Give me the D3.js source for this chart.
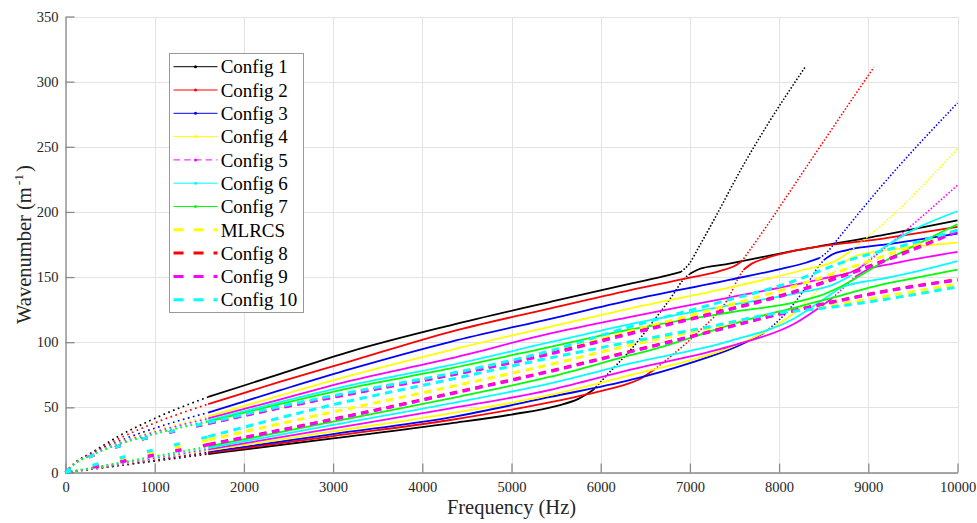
<!DOCTYPE html>
<html>
<head>
<meta charset="utf-8">
<script src="https://cdn.jsdelivr.net/npm/d3@7"></script>
<style>
  html, body { margin: 0; padding: 0; background: #ffffff; }
  svg text { font-family: "Liberation Serif", Tinos, "Times New Roman", Times, "DejaVu Serif", "Noto Serif", serif !important; }
</style>
</head>
<body>
<svg id="chart" width="977" height="523"></svg>
<script>
// ---- axis ticks ----
const freqTicks = [0, 1000, 2000, 3000, 4000, 5000, 6000, 7000, 8000, 9000, 10000];
const waveTicks = [0, 50, 100, 150, 200, 250, 300, 350];

// ---- configurations (legend order) ----
const configNames  = ["Config 1", "Config 2", "Config 3", "Config 4", "Config 5", "Config 6", "Config 7",
                      "MLRCS", "Config 8", "Config 9", "Config 10"];
const configColors = ["#000000", "#ff0000", "#0000ff", "#ffff00", "#ff00ff", "#00ffff", "#00ff00",
                      "#ffff00", "#ff0000", "#ff00ff", "#00ffff"];
const configDashed = [false, false, false, false, false, false, false, true, true, true, true];

// ---- dispersion branches: [frequency (Hz), wavenumber (1/m)] ----
// Config 1
const cfg1BranchA = [[0,0],[100,7],[300,15.5],[600,28],[1000,41.5],[1600,58],[2400,75.5],[3200,93],[4316,113],[5437,131],[6334,145],[6700,150.5],[6900,154],[6990,160],[7100,173],[7270,194],[7600,236],[7870,267],[8290,311]];
const cfg1BranchB = [[0,0],[400,3.5],[1000,8.8],[1600,14.2],[3000,26.2],[4316,37.7],[5000,44.5],[5500,51],[5750,56.5],[5919,63.5],[6100,77],[6334,94],[6600,117],[6816,137],[6920,147.5],[7000,152.5],[7100,156],[7400,159.8],[8203,170.6],[9249,183.4],[10000,193.6]];
// Config 2
const cfg2BranchA = [[0,0],[100,7],[300,15],[600,26],[1000,38],[1600,52.5],[2400,69.5],[3200,85.5],[4316,108],[5437,126],[6334,140],[7000,149.5],[7350,155],[7500,158.5],[7580,162],[7829,186],[8203,224],[8576,262],[9062,311]];
const cfg2BranchB = [[0,0],[400,3.7],[1000,9.4],[1600,15],[3000,28],[4316,40.3],[5437,54],[6000,62.5],[6300,68],[6446,72],[6600,79],[6800,90],[7081,107],[7455,137],[7540,149],[7600,155.5],[7700,160.5],[7829,164],[9249,180.4],[10000,188.5]];
// Config 3
const cfg3BranchA = [[0,0],[100,6.8],[300,14.5],[600,24],[1000,34],[1600,46],[2400,63],[3200,79.5],[4316,100.3],[5437,118],[6334,132.3],[7455,148],[8000,156],[8300,161],[8450,164.5],[8550,170],[8650,178.5],[9137,219],[10000,283.6]];
const cfg3BranchB = [[0,0],[400,3.9],[1000,9.9],[1600,15.8],[3000,29.5],[4316,42.3],[5437,58],[6334,71],[7000,84],[7500,96],[7825,107],[8000,117],[8277,140],[8420,156],[8500,163],[8600,167.5],[8750,170.5],[9286,175.8],[10000,183.4]];
// Config 4
const cfg4BranchA = [[0,0],[100,6.7],[300,14],[600,23],[1000,32],[1600,43],[2400,59],[3200,74.5],[4316,94],[5437,112],[6334,126],[7455,142],[8300,156],[8650,163],[8800,170],[9249,196],[10000,248.5]];
const cfg4BranchB = [[0,0],[400,4.1],[1000,10.5],[1600,16.8],[3000,31.5],[4316,45.4],[5437,59.5],[6334,74.8],[7455,96],[7900,110],[8203,124],[8500,145],[8700,160],[8850,166],[9249,171],[10000,176.5]];
// Config 5
const cfg5BranchA = [[0,0],[100,6.6],[300,13.8],[600,22.5],[1000,31],[1600,41.5],[2400,56],[3200,70.5],[4316,87.6],[5437,106.7],[6334,119.5],[7455,134.5],[8500,149],[8850,155],[9000,162],[9286,178],[10000,220.5]];
const cfg5BranchB = [[0,0],[400,4.4],[1000,11.1],[1600,17.8],[3000,33.8],[4316,49.2],[5437,63.5],[6334,79],[7455,97],[8165,114],[8600,134],[8850,150],[9000,156],[9286,160.5],[10000,169.3]];
// Config 6
const cfg6BranchA = [[0,0],[100,6.5],[300,13.6],[600,22],[1000,30],[1600,40],[2400,54],[3200,67],[4316,82.4],[5437,100],[6334,113.9],[7455,128.5],[8300,139],[8600,144],[8800,151],[9137,171],[9500,186],[10000,200.5]];
const cfg6BranchB = [[0,0],[400,4.7],[1000,11.8],[1600,18.8],[3000,36.5],[4316,53],[5437,68.5],[6334,83.7],[7455,101],[8165,118],[8500,133],[8700,142],[9000,147],[9137,148.5],[10000,162.2]];
// Config 7
const cfg7BranchA = [[0,0],[100,6.4],[300,13.4],[600,21.5],[1000,29.5],[1600,39],[2400,52.5],[3200,65],[4316,79.9],[5437,96.5],[6334,109.8],[7455,123],[8200,131],[8450,135.5],[8700,143],[9137,160.4],[10000,190.6]];
const cfg7BranchB = [[0,0],[400,5],[1000,12.5],[1600,20],[3000,39],[4316,56.9],[5437,73.5],[6334,90],[6558,94],[7679,118],[8200,127],[8450,131.5],[8700,136],[9137,144],[9500,149],[10000,155.8]];
// MLRCS
const mlrcsBranchA = [[0,0],[150,8],[400,15.5],[800,24.5],[1200,31.5],[1600,38],[2500,51.5],[3500,65],[4316,75.5],[5437,92],[6334,108.5],[7300,126],[8128,142],[9000,162],[10000,186]];
const mlrcsBranchB = [[0,0],[300,5],[600,9.5],[1000,15.5],[1600,25],[3000,46.5],[4316,65.8],[5437,83],[6334,97.8],[7300,112],[7900,121],[8600,128.5],[9250,136],[10000,144.6]];
// Config 8
const cfg8BranchA = [[0,0],[150,8],[400,15.5],[800,24.5],[1200,31.5],[1600,37.8],[2500,51.2],[3500,64.6],[4316,75],[5437,91.5],[6334,107],[7300,123],[8128,138],[9137,161.7],[10000,185.4]];
const cfg8BranchB = [[0,0],[300,4],[600,8],[1000,13.5],[1600,21.5],[3000,41],[4316,60.7],[5437,78],[6334,93],[7300,109.5],[7900,120],[8600,131],[9250,140],[10000,148]];
// Config 9
const cfg9BranchA = [[0,0],[150,8],[400,15.4],[800,24.4],[1200,31.3],[1600,37.5],[2500,50.9],[3500,64.2],[4316,74.6],[5437,91],[6334,106.5],[7300,122.5],[8128,137.5],[9137,161.2],[10000,185]];
const cfg9BranchB = [[0,0],[300,4],[600,7.9],[1000,13.3],[1600,21.2],[3000,40.7],[4316,60.3],[5437,77.6],[6334,92.6],[7300,109.2],[7900,119.8],[8600,130.7],[9250,139.7],[10000,147.7]];
// Config 10
const cfg10BranchA = [[0,0],[150,8],[400,15.5],[800,24.5],[1200,31.7],[1600,38.3],[2500,52],[3500,65.5],[4316,76],[5437,93.5],[6334,112],[7300,130],[8128,146],[8726,161.7],[9600,178],[10000,186]];
const cfg10BranchB = [[0,0],[300,5.5],[600,11],[1000,17.5],[1600,27.5],[3000,52],[4316,71.5],[5437,88],[6334,100.3],[7300,113],[7900,121.5],[8600,127],[9250,133.6],[10000,142.5]];

const configBranches = [
  [cfg1BranchA, cfg1BranchB], [cfg2BranchA, cfg2BranchB], [cfg3BranchA, cfg3BranchB],
  [cfg4BranchA, cfg4BranchB], [cfg5BranchA, cfg5BranchB], [cfg6BranchA, cfg6BranchB],
  [cfg7BranchA, cfg7BranchB], [mlrcsBranchA, mlrcsBranchB], [cfg8BranchA, cfg8BranchB],
  [cfg9BranchA, cfg9BranchB], [cfg10BranchA, cfg10BranchB]
];

// ---- layout ----
const FONT = "'Liberation Serif', Tinos, 'Times New Roman', Times, 'DejaVu Serif', 'Noto Serif', serif";
const svg = d3.select("#chart");
const x = d3.scaleLinear().domain([0, 10000]).range([65.5, 957.5]);
const y = d3.scaleLinear().domain([0, 350]).range([472.5, 16.5]);
const axisColor = "#8a8a8a";
const textColor = "#262626";

// grid
svg.append("g")
  .attr("transform", `translate(0,${y(0)})`)
  .call(d3.axisBottom(x).tickValues(freqTicks).tickSize(-(y(0) - y(350))).tickFormat(""))
  .call(g => g.select(".domain").remove())
  .call(g => g.selectAll("line").attr("stroke", "#e3e3e3").attr("shape-rendering", "crispEdges"));
svg.append("g")
  .attr("transform", `translate(${x(0)},0)`)
  .call(d3.axisLeft(y).tickValues(waveTicks).tickSize(-(x(10000) - x(0))).tickFormat(""))
  .call(g => g.select(".domain").remove())
  .call(g => g.selectAll("line").attr("stroke", "#e3e3e3").attr("shape-rendering", "crispEdges"));

// axes
const xAxis = svg.append("g")
  .attr("transform", `translate(0,${y(0)})`)
  .call(d3.axisBottom(x).tickValues(freqTicks).tickSizeInner(-9).tickSizeOuter(0).tickPadding(9).tickFormat(d3.format("d")));
const yAxis = svg.append("g")
  .attr("transform", `translate(${x(0)},0)`)
  .call(d3.axisLeft(y).tickValues(waveTicks).tickSizeInner(-9).tickSizeOuter(0).tickPadding(7).tickFormat(d3.format("d")));
[xAxis, yAxis].forEach(g => {
  g.attr("font-family", FONT);
  g.select(".domain").attr("stroke", axisColor).attr("stroke-width", 1.3);
  g.selectAll(".tick line").attr("stroke", axisColor).attr("stroke-width", 1.3);
  g.selectAll(".tick text").attr("fill", textColor)
    .attr("font-family", FONT).style("font-size", "14.5px");
});

// axis titles
svg.append("text")
  .attr("x", (x(0) + x(10000)) / 2).attr("y", 514)
  .attr("text-anchor", "middle").attr("fill", textColor)
  .attr("font-family", FONT).style("font-size", "20.5px")
  .text("Frequency (Hz)");
const yTitle = svg.append("text")
  .attr("transform", `translate(31,${(y(0) + y(350)) / 2}) rotate(-90)`)
  .attr("text-anchor", "middle").attr("fill", textColor)
  .attr("font-family", FONT).style("font-size", "20.5px");
yTitle.append("tspan").text("Wavenumber (m");
yTitle.append("tspan").attr("dy", -8).attr("dx", 2).style("font-size", "13.5px").text("-1");
yTitle.append("tspan").attr("dy", 8).attr("dx", 2).text(")");

// ---- curves ----
const LOW_EDGE = 1600;          // coarse frequency sampling below this
const STEEP = 0.8;              // screen slope above which markers separate
const line = d3.line().x(d => x(d[0])).y(d => y(d[1])).curve(d3.curveMonotoneX);

function pieces(pts) {
  const out = [{ style: "low", pts: pts.filter(p => p[0] <= LOW_EDGE) }];
  const high = pts.filter(p => p[0] >= LOW_EDGE);
  let run = null;
  for (let i = 0; i < high.length - 1; i++) {
    const a = high[i], b = high[i + 1];
    const s = Math.abs((y(b[1]) - y(a[1])) / (x(b[0]) - x(a[0])));
    const st = s > STEEP ? "dotted" : "solid";
    if (!run || run.style !== st) { run = { style: st, pts: [a] }; out.push(run); }
    run.pts.push(b);
  }
  return out;
}

const curves = svg.append("g").attr("fill", "none");
configBranches.forEach((branches, ci) => {
  const color = configColors[ci];
  const dashed = configDashed[ci];
  branches.forEach(pts => {
    pieces(pts).forEach(pc => {
      const p = curves.append("path").attr("d", line(pc.pts)).attr("stroke", color);
      if (dashed) {
        p.attr("stroke-width", 3)
         .attr("stroke-dasharray", pc.style === "low" ? "6,22" : "7.5,5.5");
      } else if (pc.style === "low") {
        p.attr("stroke-width", 1.7).attr("stroke-dasharray", "1.7,3.5");
      } else if (pc.style === "dotted") {
        p.attr("stroke-width", 1.6).attr("stroke-dasharray", "1.5,1.9");
      } else {
        p.attr("stroke-width", 1.8);
      }
    });
  });
});

// ---- legend ----
const lg = svg.append("g");
lg.append("rect")
  .attr("x", 169.5).attr("y", 53.5).attr("width", 134).attr("height", 259)
  .attr("fill", "#ffffff").attr("stroke", "#999999").attr("stroke-width", 1);
configNames.forEach((name, i) => {
  const cy = 66.7 + i * 23.3;
  const l = lg.append("line")
    .attr("x1", 173.5).attr("x2", 217.5).attr("y1", cy).attr("y2", cy)
    .attr("stroke", configColors[i]);
  if (configDashed[i]) {
    l.attr("stroke-width", 3).attr("stroke-dasharray", "10,10");
  } else {
    l.attr("stroke-width", 1);
    if (i === 4) l.attr("stroke-dasharray", "6.5,4.2");
    lg.append("circle").attr("cx", 195.5).attr("cy", cy).attr("r", 1.5).attr("fill", configColors[i]);
  }
  lg.append("text")
    .attr("x", 220.7).attr("y", cy + 6.7)
    .attr("fill", "#000000").attr("font-family", FONT).style("font-size", "19px")
    .text(name);
});
</script>
</body>
</html>
